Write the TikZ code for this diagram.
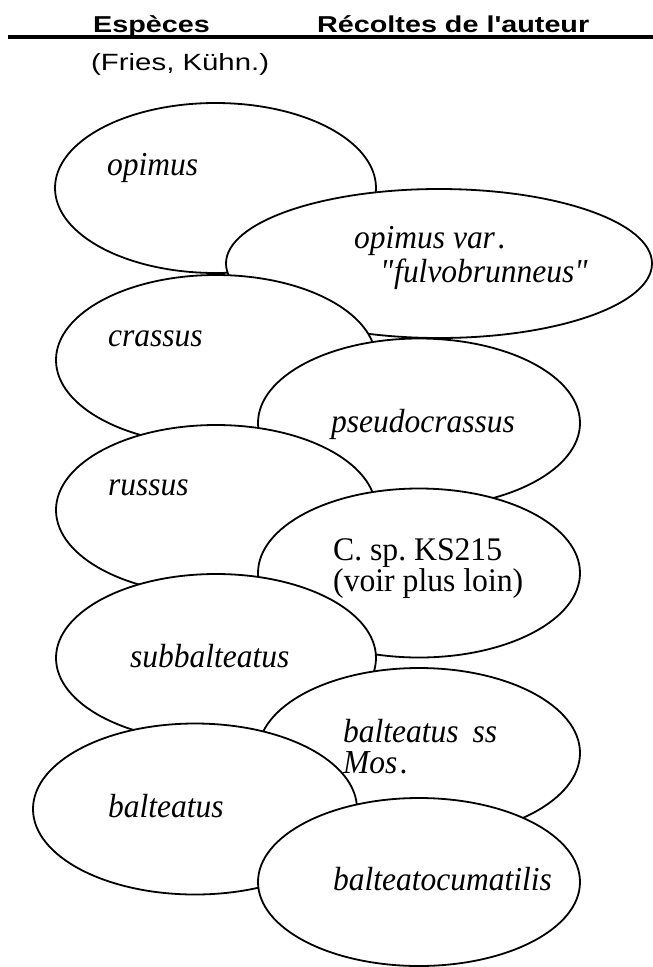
\documentclass[tikz,border=0pt]{standalone}
\usepackage{fontspec}
\usetikzlibrary{shapes.geometric}
\setmainfont{Liberation Serif}
\newfontfamily\itfont[FakeStretch=0.94]{Liberation Serif Italic}
\newfontfamily\upfont[FakeStretch=0.96]{Liberation Serif}
\newfontfamily\hdrfont[FakeStretch=1.25]{Liberation Sans}
\frenchspacing
\begin{document}
\begin{tikzpicture}[x=1pt,y=-1pt,
  ell/.style={ellipse, draw=black, fill=white, line width=1.8pt, inner sep=0pt},
  lbl/.style={anchor=base west, inner sep=0pt, font=\itfont\fontsize{33.5}{31}\selectfont\frenchspacing},
  lblup/.style={anchor=base west, inner sep=0pt, font=\upfont\fontsize{33}{31}\selectfont\frenchspacing},
  hdr/.style={anchor=base west, inner sep=0pt, font=\hdrfont\bfseries\fontsize{23}{23}\selectfont},
  sub/.style={anchor=base west, inner sep=0pt, font=\hdrfont\fontsize{23.5}{23.5}\selectfont}]
\useasboundingbox (0,0) rectangle (653,967);
% header
\node[hdr] (h1) at (93,32) {Espèces};
\node[hdr] (h2) at (317,32) {Récoltes de l'auteur};
\coordinate (rl) at (8,37);
\coordinate (rr) at (653,37);
\draw[line width=4pt] (rl) -- (rr);
\node[sub] (h3) at (91,70) {(Fries, Kühn.)};
% ellipses, later ones on top
\node[ell, minimum width=321pt, minimum height=170pt] (e1) at (215.5,188) {};
\node[lbl] (t1) at (107,175) {opimus};
\node[ell, minimum width=426pt, minimum height=149pt] (e2) at (439,263.5) {};
\node[lbl] (t2a) at (354,248) {opimus var\hspace{3pt}.};
\node[lbl] (t2b) at (380,282) {\textquotedbl fulvobrunneus\textquotedbl};
\node[ell, minimum width=320pt, minimum height=170pt] (e3) at (216,360) {};
\node[lbl] (t3) at (108,346) {crassus};
\node[ell, minimum width=322pt, minimum height=169pt] (e4) at (419,423) {};
\node[lbl] (t4) at (331,432) {pseudocrassus};
\node[ell, minimum width=320pt, minimum height=170pt] (e5) at (216,510) {};
\node[lbl] (t5) at (108,495) {russus};
\node[ell, minimum width=322pt, minimum height=169pt] (e6) at (419,573) {};
\node[lblup] (t6a) at (333,560) {C. sp. KS215};
\node[lblup] (t6b) at (333,591) {(voir plus loin)};
\node[ell, minimum width=320pt, minimum height=168pt] (e7) at (216,658) {};
\node[lbl] (t7) at (130,667) {subbalteatus};
\node[ell, minimum width=322pt, minimum height=170pt] (e8) at (419,753) {};
\node[lbl] (t8a) at (343,742) {balteatus\hspace{14pt}ss};
\node[lbl] (t8b) at (343,773) {Mos\hspace{3pt}.};
\node[ell, minimum width=324pt, minimum height=171pt] (e9) at (195,809) {};
\node[lbl] (t9) at (108,817) {balteatus};
\node[ell, minimum width=322pt, minimum height=168pt] (e10) at (419,882) {};
\node[lbl] (t10) at (333,890) {balteatocumatilis};
\end{tikzpicture}
\end{document}
